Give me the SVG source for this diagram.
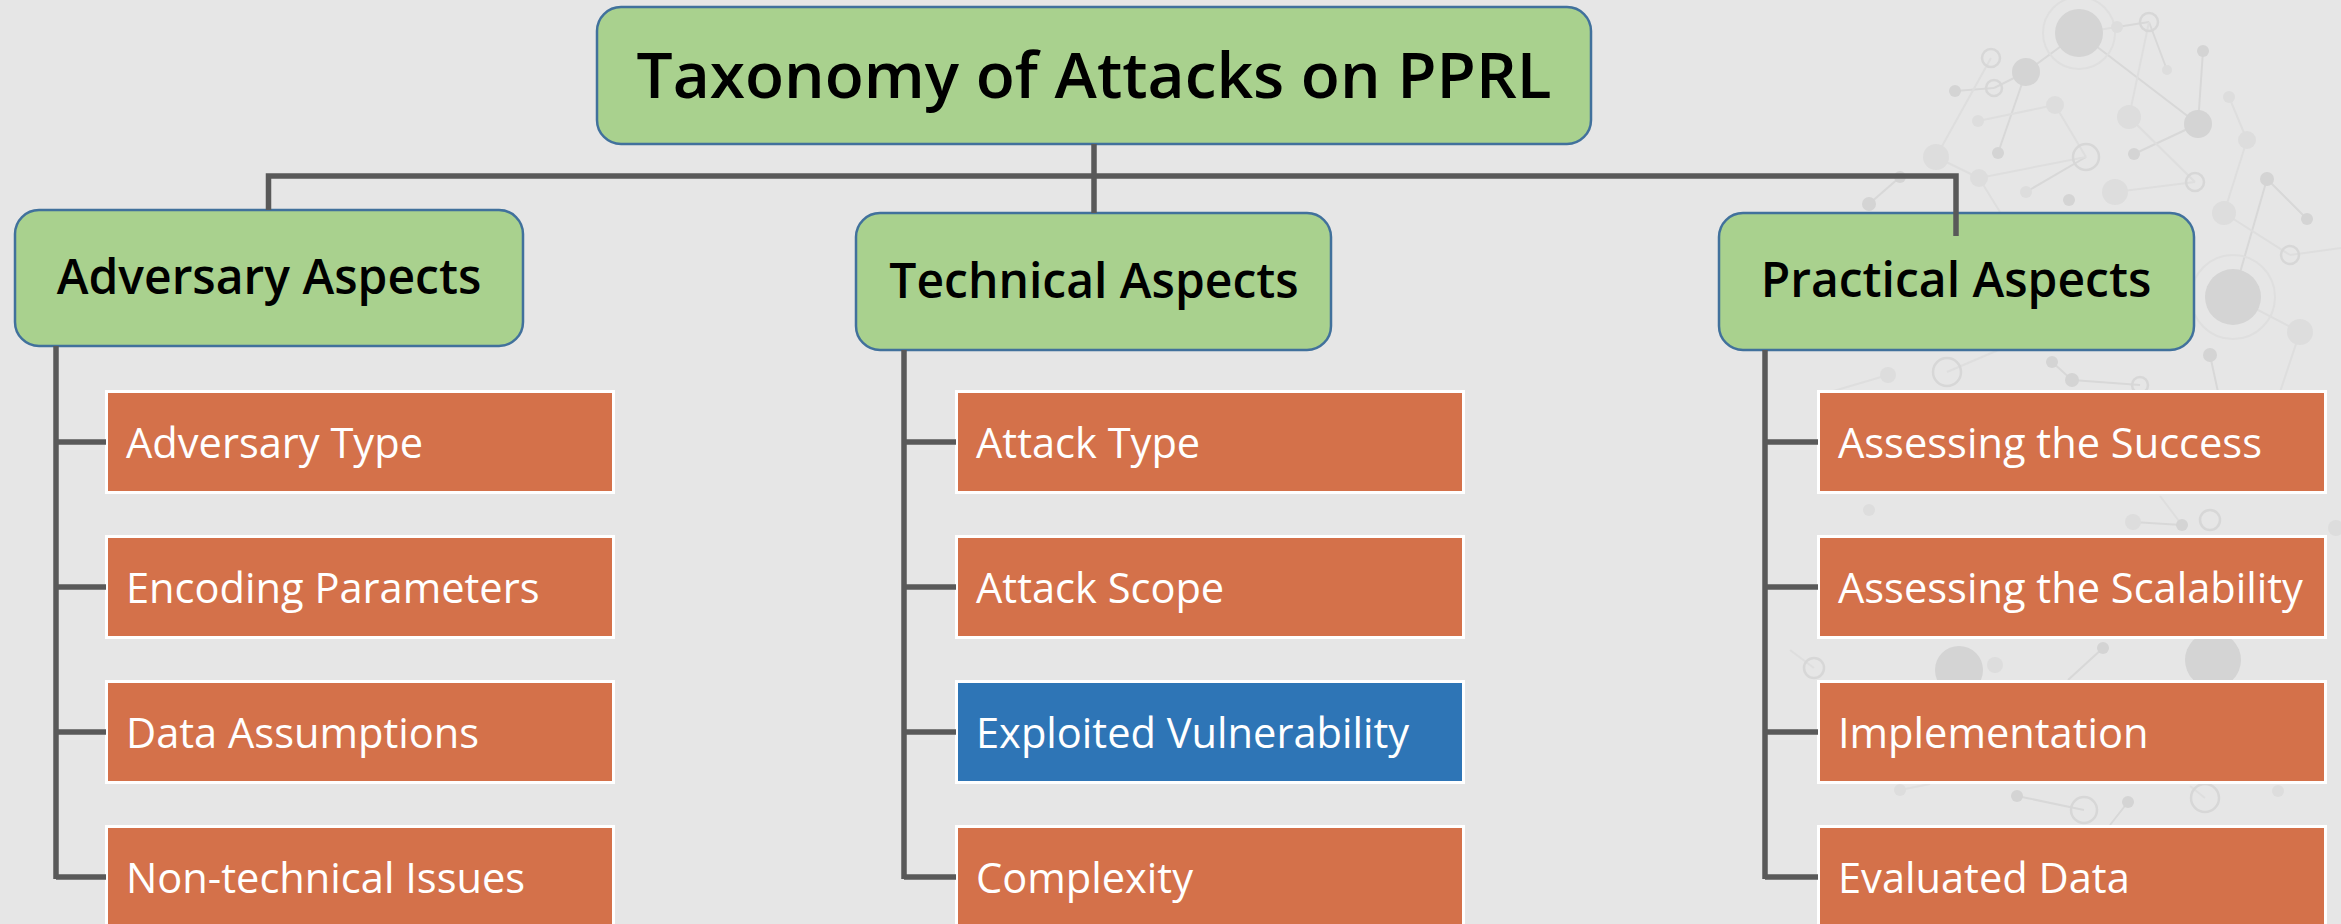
<svg xmlns="http://www.w3.org/2000/svg" width="2341" height="924" viewBox="0 0 2341 924">
  <style>
    .bg { fill: #e6e6e6; }
    .net-line { stroke: #d8d8d8; stroke-width: 2; fill: none; }
    .net-faint { stroke: #dedede; stroke-width: 2; fill: none; }
    .dot { fill: #d4d4d4; }
    .dot-faint { fill: #dddddd; }
    .ring { fill: none; stroke: #d7d7d7; stroke-width: 2.5; }
    .halo { fill: none; stroke: #dfdfdf; stroke-width: 2; }
    .head { fill: #a9d18e; stroke: #41719c; stroke-width: 2.5; }
    .head-text { font-family: "Open Sans", "Noto Sans", sans-serif; font-weight: 600; fill: #000000; text-anchor: middle; }
    .leaf { fill: #d4714a; stroke: #ffffff; stroke-width: 3; }
    .leaf-hl { fill: #2e75b6; stroke: #ffffff; stroke-width: 3; }
    .leaf-text { font-family: "Open Sans", "Noto Sans", sans-serif; font-size: 41.6px; fill: #ffffff; }
    .conn { stroke: #595959; stroke-width: 5.5; fill: none; stroke-linecap: butt; }
  </style>

  <rect class="bg" x="0" y="0" width="2341" height="924"/>

  <!-- decorative network texture, top right -->
  <g id="texture">
    <g class="net-line">
      <line x1="2079" y1="33" x2="2026" y2="72"/>
      <line x1="2026" y1="72" x2="1994" y2="88"/>
      <line x1="1994" y1="88" x2="1955" y2="91"/>
      <line x1="2026" y1="72" x2="1998" y2="153"/>
      <line x1="2079" y1="33" x2="2198" y2="124"/>
      <line x1="2198" y1="124" x2="2203" y2="51"/>
      <line x1="2198" y1="124" x2="2134" y2="154"/>
      <line x1="2149" y1="22" x2="2117" y2="27"/>
      <line x1="2149" y1="22" x2="2167" y2="70"/>
      <line x1="2086" y1="157" x2="2026" y2="192"/>
      <line x1="1869" y1="204" x2="1900" y2="177"/>
      <line x1="2267" y1="179" x2="2307" y2="219"/>
      <line x1="2267" y1="179" x2="2233" y2="297"/>
      <line x1="2052" y1="362" x2="2072" y2="380"/>
      <line x1="2072" y1="380" x2="2140" y2="385"/>
      <line x1="2210" y1="355" x2="2218" y2="392"/>
      <line x1="2133" y1="522" x2="2182" y2="525"/>
      <line x1="2103" y1="648" x2="2068" y2="680"/>
      <line x1="2017" y1="796" x2="2084" y2="810"/>
      <line x1="2128" y1="802" x2="2110" y2="825"/>
    </g>
    <g class="net-faint">
      <line x1="2117" y1="27" x2="2079" y2="33"/>
      <line x1="2149" y1="22" x2="2129" y2="117"/>
      <line x1="2129" y1="117" x2="2195" y2="182"/>
      <line x1="2115" y1="192" x2="2195" y2="182"/>
      <line x1="2086" y1="157" x2="1979" y2="178"/>
      <line x1="2055" y1="105" x2="1978" y2="121"/>
      <line x1="2055" y1="105" x2="2086" y2="157"/>
      <line x1="1936" y1="157" x2="1991" y2="58"/>
      <line x1="1936" y1="157" x2="1979" y2="178"/>
      <line x1="1979" y1="178" x2="2000" y2="212"/>
      <line x1="2229" y1="97" x2="2247" y2="140"/>
      <line x1="2247" y1="140" x2="2224" y2="213"/>
      <line x1="2224" y1="213" x2="2290" y2="255"/>
      <line x1="2290" y1="255" x2="2341" y2="248"/>
      <line x1="2233" y1="297" x2="2300" y2="332"/>
      <line x1="2300" y1="332" x2="2280" y2="392"/>
      <line x1="1947" y1="372" x2="2010" y2="345"/>
      <line x1="1888" y1="375" x2="1830" y2="392"/>
      <line x1="2182" y1="525" x2="2160" y2="496"/>
      <line x1="1814" y1="668" x2="1790" y2="650"/>
      <line x1="2205" y1="798" x2="2190" y2="786"/>
      <line x1="1900" y1="790" x2="1930" y2="784"/>
    </g>
    <circle class="halo" cx="2079" cy="33" r="36"/>
    <circle class="halo" cx="2233" cy="297" r="42"/>
    <circle class="dot" cx="2079" cy="33" r="24"/>
    <circle class="dot" cx="2026" cy="72" r="14"/>
    <circle class="ring" cx="1994" cy="88" r="8"/>
    <circle class="dot" cx="1955" cy="91" r="6"/>
    <circle class="ring" cx="1991" cy="58" r="9"/>
    <circle class="ring" cx="2149" cy="22" r="9"/>
    <circle class="dot-faint" cx="2117" cy="27" r="6"/>
    <circle class="dot" cx="2203" cy="51" r="6"/>
    <circle class="dot-faint" cx="2167" cy="70" r="5"/>
    <circle class="dot-faint" cx="2129" cy="117" r="12"/>
    <circle class="dot" cx="2198" cy="124" r="14"/>
    <circle class="dot" cx="2134" cy="154" r="6"/>
    <circle class="dot" cx="1998" cy="153" r="6"/>
    <circle class="ring" cx="2086" cy="157" r="13"/>
    <circle class="dot-faint" cx="2055" cy="105" r="9"/>
    <circle class="dot-faint" cx="1936" cy="157" r="13"/>
    <circle class="dot-faint" cx="1978" cy="121" r="6"/>
    <circle class="dot-faint" cx="1979" cy="178" r="9"/>
    <circle class="ring" cx="2195" cy="182" r="9"/>
    <circle class="dot-faint" cx="2115" cy="192" r="13"/>
    <circle class="dot" cx="2069" cy="200" r="6"/>
    <circle class="dot-faint" cx="2026" cy="192" r="6"/>
    <circle class="dot" cx="1869" cy="204" r="7"/>
    <circle class="dot" cx="1900" cy="177" r="6"/>
    <circle class="dot-faint" cx="2229" cy="97" r="6"/>
    <circle class="dot-faint" cx="2247" cy="140" r="9"/>
    <circle class="dot" cx="2267" cy="179" r="7"/>
    <circle class="dot" cx="2307" cy="219" r="6"/>
    <circle class="dot-faint" cx="2224" cy="213" r="12"/>
    <circle class="dot" cx="2233" cy="297" r="28"/>
    <circle class="ring" cx="2290" cy="255" r="9"/>
    <circle class="dot-faint" cx="2300" cy="332" r="13"/>
    <circle class="dot" cx="2210" cy="355" r="7"/>
    <circle class="ring" cx="1947" cy="372" r="14"/>
    <circle class="dot" cx="2052" cy="362" r="6"/>
    <circle class="dot" cx="2072" cy="380" r="7"/>
    <circle class="ring" cx="2140" cy="385" r="8"/>
    <circle class="dot-faint" cx="1888" cy="375" r="8"/>
    <circle class="dot" cx="2182" cy="525" r="6"/>
    <circle class="ring" cx="2210" cy="520" r="10"/>
    <circle class="dot-faint" cx="2133" cy="522" r="8"/>
    <circle class="dot-faint" cx="1869" cy="510" r="6"/>
    <circle class="dot-faint" cx="2336" cy="528" r="8"/>
    <circle class="dot" cx="2213" cy="660" r="28"/>
    <circle class="dot" cx="1959" cy="670" r="24"/>
    <circle class="dot" cx="2103" cy="648" r="6"/>
    <circle class="ring" cx="1814" cy="668" r="10"/>
    <circle class="dot-faint" cx="1995" cy="665" r="8"/>
    <circle class="dot" cx="2017" cy="796" r="6"/>
    <circle class="ring" cx="2084" cy="810" r="13"/>
    <circle class="dot" cx="2128" cy="802" r="6"/>
    <circle class="ring" cx="2205" cy="798" r="14"/>
    <circle class="dot-faint" cx="1900" cy="790" r="6"/>
    <circle class="dot-faint" cx="2278" cy="791" r="6"/>
  </g>

  <!-- root -->
  <g id="node-root">
    <rect class="head" x="597" y="7" width="994" height="137" rx="24"/>
    <text class="head-text" x="1094" y="98" font-size="64">Taxonomy of Attacks on PPRL</text>
  </g>

  <!-- aspect groups -->
  <g id="node-adversary">
    <rect class="head" x="15" y="210" width="508" height="136" rx="24"/>
    <text class="head-text" x="269" y="294" font-size="48">Adversary Aspects</text>
  </g>
  <g id="node-technical">
    <rect class="head" x="856" y="213" width="475" height="137" rx="24"/>
    <text class="head-text" x="1094" y="298" font-size="48">Technical Aspects</text>
  </g>
  <g id="node-practical">
    <rect class="head" x="1719" y="213" width="475" height="137" rx="24"/>
    <text class="head-text" x="1956" y="297" font-size="48">Practical Aspects</text>
  </g>

  <!-- adversary leaves -->
  <g id="node-adversary-type">
    <rect class="leaf" x="106.5" y="391.5" width="507" height="101"/>
    <text class="leaf-text" x="126" y="458">Adversary Type</text>
  </g>
  <g id="node-encoding-parameters">
    <rect class="leaf" x="106.5" y="536.5" width="507" height="101"/>
    <text class="leaf-text" x="126" y="603">Encoding Parameters</text>
  </g>
  <g id="node-data-assumptions">
    <rect class="leaf" x="106.5" y="681.5" width="507" height="101"/>
    <text class="leaf-text" x="126" y="748">Data Assumptions</text>
  </g>
  <g id="node-non-technical-issues">
    <rect class="leaf" x="106.5" y="826.5" width="507" height="101"/>
    <text class="leaf-text" x="126" y="893">Non-technical Issues</text>
  </g>

  <!-- technical leaves -->
  <g id="node-attack-type">
    <rect class="leaf" x="956.5" y="391.5" width="507" height="101"/>
    <text class="leaf-text" x="976" y="458">Attack Type</text>
  </g>
  <g id="node-attack-scope">
    <rect class="leaf" x="956.5" y="536.5" width="507" height="101"/>
    <text class="leaf-text" x="976" y="603">Attack Scope</text>
  </g>
  <g id="node-exploited-vulnerability">
    <rect class="leaf-hl" x="956.5" y="681.5" width="507" height="101"/>
    <text class="leaf-text" x="976" y="748">Exploited Vulnerability</text>
  </g>
  <g id="node-complexity">
    <rect class="leaf" x="956.5" y="826.5" width="507" height="101"/>
    <text class="leaf-text" x="976" y="893">Complexity</text>
  </g>

  <!-- practical leaves -->
  <g id="node-assessing-success">
    <rect class="leaf" x="1818.5" y="391.5" width="507" height="101"/>
    <text class="leaf-text" x="1838" y="458">Assessing the Success</text>
  </g>
  <g id="node-assessing-scalability">
    <rect class="leaf" x="1818.5" y="536.5" width="507" height="101"/>
    <text class="leaf-text" x="1838" y="603">Assessing the Scalability</text>
  </g>
  <g id="node-implementation">
    <rect class="leaf" x="1818.5" y="681.5" width="507" height="101"/>
    <text class="leaf-text" x="1838" y="748">Implementation</text>
  </g>
  <g id="node-evaluated-data">
    <rect class="leaf" x="1818.5" y="826.5" width="507" height="101"/>
    <text class="leaf-text" x="1838" y="893">Evaluated Data</text>
  </g>

  <!-- tree connectors -->
  <g id="connectors">
    <line class="conn" x1="1094" y1="144" x2="1094" y2="213"/>
    <path class="conn" d="M268.5 210 V176 H1956 V236"/>
    <path class="conn" d="M56 346 V879"/>
    <path class="conn" d="M56 442 H106 M56 587 H106 M56 732 H106 M56 877 H106"/>
    <path class="conn" d="M904 350 V879"/>
    <path class="conn" d="M904 442 H956 M904 587 H956 M904 732 H956 M904 877 H956"/>
    <path class="conn" d="M1765 350 V879"/>
    <path class="conn" d="M1765 442 H1818 M1765 587 H1818 M1765 732 H1818 M1765 877 H1818"/>
  </g>
</svg>
